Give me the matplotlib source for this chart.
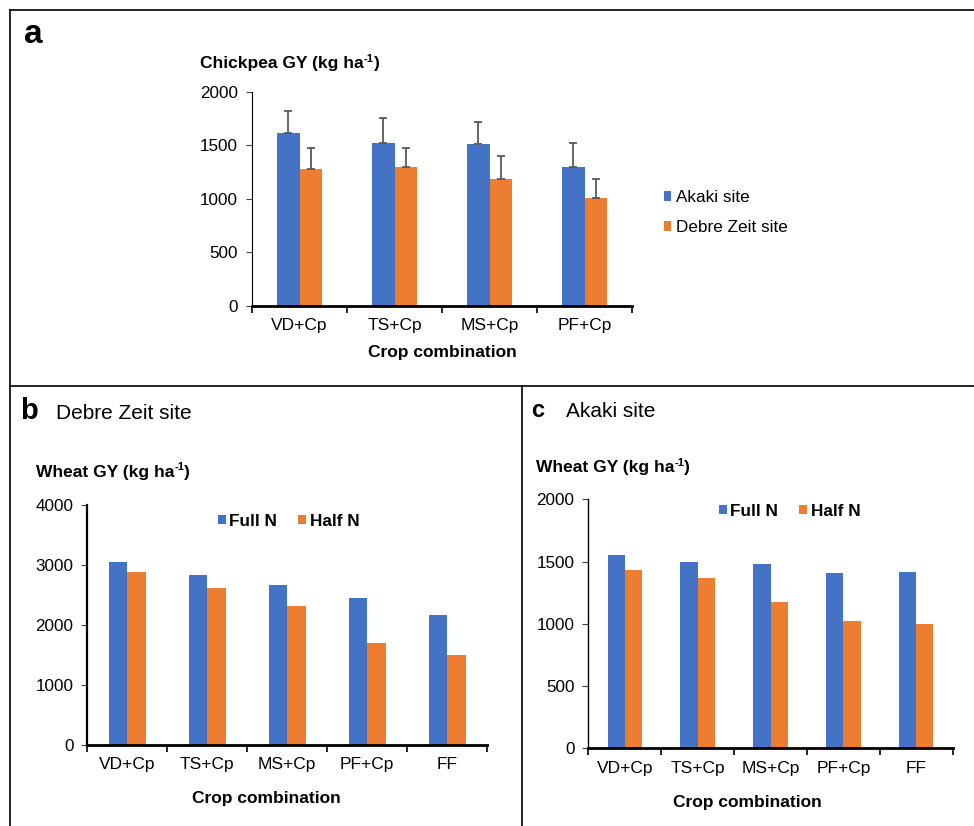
import matplotlib
matplotlib.use("Agg")
import matplotlib.pyplot as plt
from matplotlib.lines import Line2D
from matplotlib.transforms import offset_copy
import numpy as np

plt.rcParams['font.family'] = ['Liberation Sans', 'DejaVu Sans']

BLUE = '#4472C4'
ORANGE = '#ED7D31'

# chickpea grain yield by crop combination (panel a)
chick_cats = ['VD+Cp', 'TS+Cp', 'MS+Cp', 'PF+Cp']
chick_akaki = [1610, 1525, 1510, 1295]
chick_akaki_err = [210, 225, 210, 225]
chick_debre = [1280, 1300, 1180, 1010]
chick_debre_err = [195, 175, 215, 178]

# wheat grain yield, Debre Zeit (panel b) and Akaki (panel c)
wheat_cats = ['VD+Cp', 'TS+Cp', 'MS+Cp', 'PF+Cp', 'FF']
dz_full = [3050, 2830, 2660, 2440, 2160]
dz_half = [2880, 2610, 2310, 1690, 1490]
ak_full = [1550, 1500, 1480, 1410, 1420]
ak_half = [1430, 1365, 1175, 1025, 1000]

W, H = 974, 826
fig = plt.figure(figsize=(W / 100, H / 100), dpi=100)
renderer = fig.canvas.get_renderer()


def fx(x):
    return x / W


def fy(y):
    return 1 - y / H


def add_axes(left, right, top, bottom):
    return fig.add_axes([fx(left), fy(bottom), (right - left) / W, (bottom - top) / H])


def style_axes(ax, ncat, ymax, step, left_lw):
    ax.set_xlim(-0.5, ncat - 0.5)
    ax.set_ylim(0, ymax)
    ax.set_yticks(np.arange(0, ymax + 1, step))
    for s in ['top', 'right']:
        ax.spines[s].set_visible(False)
    ax.spines['bottom'].set_linewidth(2.0)
    ax.spines['left'].set_linewidth(left_lw)
    ax.set_xticks(np.arange(ncat))
    ax.set_xticks(np.arange(ncat + 1) - 0.5, minor=True)
    ax.tick_params(axis='x', which='major', length=0, pad=9, labelsize=12.5)
    ax.tick_params(axis='x', which='minor', length=5, width=1.2, direction='out')
    ax.tick_params(axis='y', length=4, width=0.8, pad=6, labelsize=12.3, color='#404040')


def unit_label(x, y, crop):
    # "<crop> GY (kg ha^-1)" with a small raised -1, laid out piece by piece
    kw = dict(fontsize=12.5, fontweight='bold', va='baseline')
    t = fig.text(fx(x), fy(y), f'{crop} GY (kg ha', **kw)
    w = t.get_window_extent(renderer).width
    s = fig.text(fx(x + w), fy(y - 6), '-1', fontsize=8, fontweight='bold', va='baseline')
    w += s.get_window_extent(renderer).width
    fig.text(fx(x + w), fy(y), ')', **kw)


bw = 0.235

# panel a
axa = add_axes(252, 632, 91.7, 305.7)
x = np.arange(len(chick_cats))
err_kw = dict(ecolor='#595959', elinewidth=1.3, capsize=2.6, capthick=1.3)
axa.bar(x - bw / 2, chick_akaki, bw, color=BLUE,
        yerr=[np.zeros(len(x)), chick_akaki_err], error_kw=err_kw, label='Akaki site')
axa.bar(x + bw / 2, chick_debre, bw, color=ORANGE,
        yerr=[np.zeros(len(x)), chick_debre_err], error_kw=err_kw, label='Debre Zeit site')
style_axes(axa, len(chick_cats), 2000, 500, 0.8)
axa.set_xticklabels(chick_cats)
axa.legend(loc='upper left', bbox_to_anchor=(fx(664), fy(190)), bbox_transform=fig.transFigure,
           frameon=False, fontsize=12.3, borderpad=0, borderaxespad=0,
           handlelength=0.4, handleheight=0.5, handletextpad=0.3, labelspacing=0.9)

# panel b
axb = add_axes(87.3, 487.3, 505, 744.7)
x = np.arange(len(wheat_cats))
axb.bar(x - bw / 2, dz_full, bw, color=BLUE, label='Full N')
axb.bar(x + bw / 2, dz_half, bw, color=ORANGE, label='Half N')
style_axes(axb, len(wheat_cats), 4000, 1000, 1.6)
axb.set_xticklabels(wheat_cats)

# panel c
axc = add_axes(588.3, 952.7, 499.3, 748.3)
axc.bar(x - bw / 2, ak_full, bw, color=BLUE, label='Full N')
axc.bar(x + bw / 2, ak_half, bw, color=ORANGE, label='Half N')
style_axes(axc, len(wheat_cats), 2000, 500, 1.0)
axc.set_xticklabels(wheat_cats)

leg_kw = dict(ncol=2, frameon=False, borderpad=0, borderaxespad=0,
              handlelength=0.5, handleheight=0.5, handletextpad=0.2, columnspacing=1.2,
              prop={'weight': 'bold', 'size': 12.3})
axb.legend(loc='center left', bbox_to_anchor=(fx(217.5), fy(521)),
           bbox_transform=fig.transFigure, **leg_kw)
axc.legend(loc='center left', bbox_to_anchor=(fx(718.5), fy(511)),
           bbox_transform=fig.transFigure, **leg_kw)

# panel letters, titles and axis captions
fig.text(fx(24), fy(43), 'a', fontsize=24, fontweight='bold', va='baseline')
unit_label(200, 68, 'Chickpea')
fig.text(fx(442), fy(352), 'Crop combination', fontsize=12.5, fontweight='bold', ha='center', va='center')

fig.text(fx(20), fy(419), 'b', fontsize=21, fontweight='bold', va='baseline')
fig.text(fx(56), fy(419), 'Debre Zeit site', fontsize=15, va='baseline')
unit_label(36, 476.5, 'Wheat')
fig.text(fx(266), fy(799), 'Crop combination', fontsize=12.5, fontweight='bold', ha='center', va='center')

fig.text(fx(531), fy(417), 'c', fontsize=17, fontweight='bold', va='baseline')
fig.text(fx(565.5), fy(417), 'Akaki site', fontsize=15, va='baseline')
unit_label(536, 472, 'Wheat')
fig.text(fx(747), fy(802.5), 'Crop combination', fontsize=12.5, fontweight='bold', ha='center', va='center')

# panel frame lines
frame = [((10, 10), (974, 10)), ((10, 10), (10, 826)),
         ((10, 386), (974, 386)), ((522, 386), (522, 826))]
for (x0, y0), (x1, y1) in frame:
    fig.add_artist(Line2D([fx(x0), fx(x1)], [fy(y0), fy(y1)], transform=fig.transFigure,
                          color='black', lw=1.2))

fig.savefig('out.png', dpi=100)
